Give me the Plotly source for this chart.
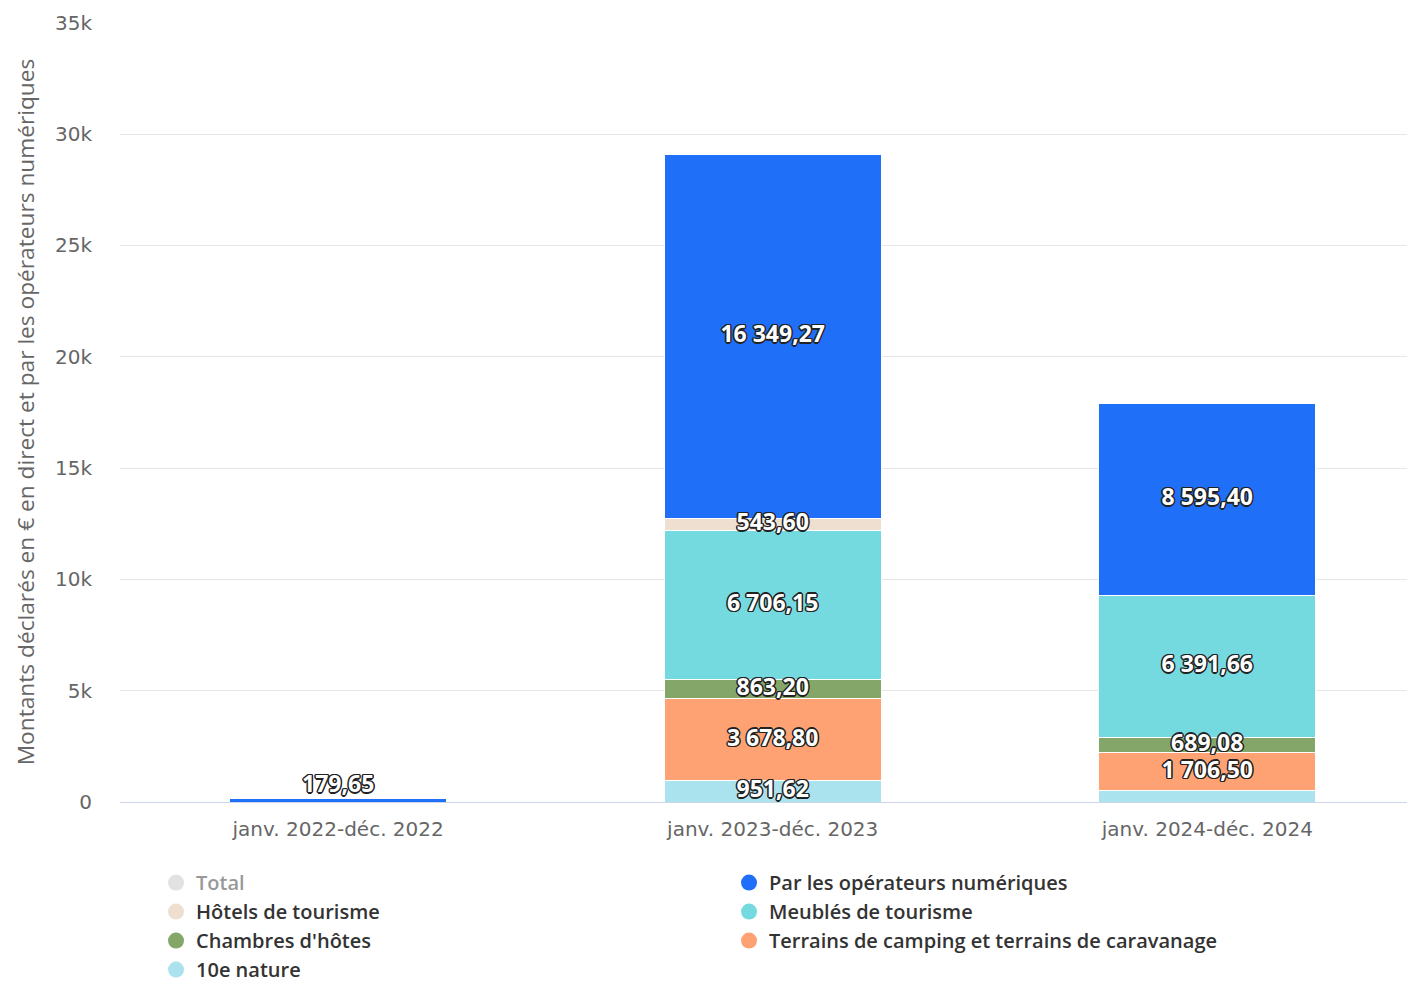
import plotly.graph_objects as go

periods = ["janv. 2022-déc. 2022", "janv. 2023-déc. 2023", "janv. 2024-déc. 2024"]

dix_nature = [None, 951.62, 500.0]
terrains = [None, 3678.80, 1706.50]
chambres = [None, 863.20, 689.08]
meubles = [None, 6706.15, 6391.66]
hotels = [None, 543.60, None]
operateurs = [179.65, 16349.27, 8595.40]
total = [179.65, 29092.64, 17882.64]

y_ticks = [0, 5000, 10000, 15000, 20000, 25000, 30000, 35000]
y_tick_text = ["0", "5k", "10k", "15k", "20k", "25k", "30k", "35k"]

# (name, values, colour, legend rank, hidden label indexes) -- stacked bottom to top
series = [
    ("10e nature", dix_nature, "#aae3ee", 7, {2}),
    ("Terrains de camping et terrains de caravanage", terrains, "#ffa273", 6, set()),
    ("Chambres d'hôtes", chambres, "#84a769", 5, set()),
    ("Meublés de tourisme", meubles, "#74dadf", 4, set()),
    ("Hôtels de tourisme", hotels, "#efdfd1", 3, set()),
    ("Par les opérateurs numériques", operateurs, "#1f6ff8", 2, set()),
]


def fr(v):
    if v is None:
        return ""
    return f"{v:,.2f}".replace(",", " ").replace(".", ",")


fig = go.Figure()

outline = ("1px 1px 0px #222, -1px -1px 0px #222, 1px -1px 0px #222, -1px 1px 0px #222, "
           "0px 1.5px 0px #222, 0px -1.5px 0px #222, 1.5px 0px 0px #222, -1.5px 0px 0px #222")
label_font = dict(family="Open Sans", size=23, color="white", weight="bold", shadow=outline)

# Total (hidden series)
fig.add_trace(go.Bar(
    x=periods, y=total, name="Total", marker=dict(color="#c6c6c6"),
    visible="legendonly", showlegend=False, legendgroup="Total",
))
fig.add_trace(go.Scatter(
    x=[None], y=[None], mode="markers", name="Total", legendgroup="Total",
    marker=dict(color="#c6c6c6", size=20, symbol="circle"),
    visible="legendonly", legendrank=1,
))

# bars
for name, vals, color, rank, hidden in series:
    fig.add_trace(go.Bar(
        x=periods, y=vals, name=name, legendgroup=name, showlegend=False,
        marker=dict(color=color, line=dict(color="white", width=1)),
        hoverinfo="x+y+name",
    ))
    fig.add_trace(go.Scatter(
        x=[None], y=[None], mode="markers", name=name, legendgroup=name,
        marker=dict(color=color, size=20, symbol="circle"), legendrank=rank,
    ))

# labels on top of all bars, at the middle of each stacked segment
base = [0.0] * len(periods)
for name, vals, color, rank, hidden in series:
    lx, ly, lt, lp = [], [], [], []
    for i, v in enumerate(vals):
        if v is None:
            continue
        if i not in hidden:
            lx.append(periods[i])
            if v < 300:
                ly.append(base[i] + v)
                lp.append("top center")
            else:
                ly.append(base[i] + v / 2)
                lp.append("middle center")
            lt.append(fr(v))
        base[i] += v
    fig.add_trace(go.Scatter(
        x=lx, y=ly, text=lt, mode="text", textposition=lp,
        textfont=label_font, showlegend=False, hoverinfo="skip",
        legendgroup=name, cliponaxis=False,
    ))

fig.update_layout(
    width=1407, height=975,
    barmode="stack", bargap=0.5,
    paper_bgcolor="white", plot_bgcolor="white",
    margin=dict(l=112, r=0, t=14, b=181, autoexpand=False),
    font=dict(family="Open Sans", color="#333333"),
    showlegend=True,
    legend=dict(
        orientation="h", xref="container", yref="container",
        x=0.1052, y=0.123, xanchor="left", yanchor="top",
        entrywidth=528, entrywidthmode="pixels",
        font=dict(family="Open Sans", size=20, color="#333333", weight=600),
        itemsizing="trace", tracegroupgap=0,
    ),
    xaxis=dict(
        type="category", range=[-0.502, 2.478], automargin=False,
        showline=True, linecolor="#ccd6eb", linewidth=1,
        tickfont=dict(family="DejaVu Sans", size=20, color="#666666"),
        ticks="", showgrid=False, ticklabelstandoff=9,
    ),
    yaxis=dict(
        range=[0, 35040], tickvals=y_ticks, ticktext=y_tick_text,
        showgrid=True, gridcolor="#e6e6e6", gridwidth=1,
        zeroline=False, automargin=False,
        tickfont=dict(family="DejaVu Sans", size=20, color="#666666"),
        ticklabelstandoff=27,
        title=dict(text="Montants déclarés en € en direct et par les opérateurs numériques",
                   font=dict(family="Open Sans", size=22.7, color="#666666"), standoff=14),
    ),
)

fig.write_html("out.html")
